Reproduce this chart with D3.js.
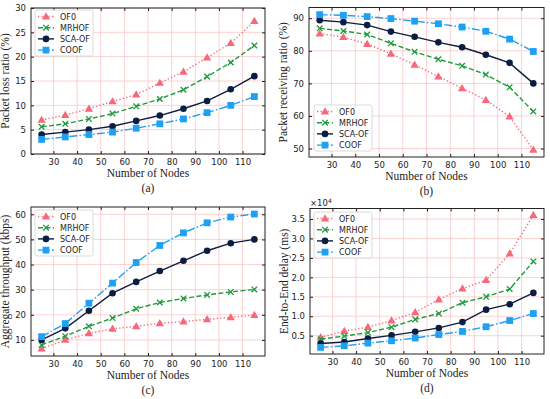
<!DOCTYPE html>
<html>
<head>
<meta charset="utf-8">
<script src="https://cdn.jsdelivr.net/npm/d3@7"></script>
<style>
  body { margin: 0; background: #fff; }
  svg { display: block; }
</style>
</head>
<body>
<svg id="fig" width="550" height="399"></svg>
<script>
// number of nodes (x values shared by all four panels)
var nodes = [25, 35, 45, 55, 65, 75, 85, 95, 105, 115];
var seriesNames = ['OF0', 'MRHOF', 'SCA-OF', 'COOF'];
var xTicks = [30, 40, 50, 60, 70, 80, 90, 100, 110];

// (a) packet loss ratio (%)
var lossOF0   = [7.0, 8.0, 9.3, 10.8, 12.2, 14.6, 16.9, 19.8, 22.8, 27.3];
var lossMRHOF = [5.6, 6.2, 7.2, 8.3, 9.8, 11.3, 13.2, 15.9, 18.8, 22.3];
var lossSCAOF = [4.0, 4.5, 5.0, 5.7, 6.8, 7.9, 9.3, 10.9, 13.3, 16.0];
var lossCOOF  = [3.0, 3.5, 4.0, 4.5, 5.3, 6.2, 7.2, 8.5, 10.0, 11.8];
var lossTicks = [0, 5, 10, 15, 20, 25, 30];

// (b) packet receiving ratio (%)
var recvOF0   = [85.3, 84.2, 82.1, 79.1, 75.7, 72.1, 68.5, 64.9, 59.8, 49.6];
var recvMRHOF = [86.9, 86.1, 85.0, 82.3, 79.7, 77.4, 75.4, 72.7, 68.8, 61.4];
var recvSCAOF = [89.4, 88.8, 87.9, 85.9, 84.3, 82.6, 81.1, 78.8, 76.3, 70.0];
var recvCOOF  = [91.1, 90.9, 90.5, 89.9, 89.1, 88.3, 87.3, 86.0, 83.6, 79.8];
var recvTicks = [50, 60, 70, 80, 90];

// (c) aggregate throughput (kbps)
var thrOF0   = [6.5, 10.0, 12.6, 14.4, 15.4, 16.6, 17.3, 18.2, 19.0, 19.9];
var thrMRHOF = [8.0, 11.5, 15.4, 18.7, 22.4, 24.9, 26.5, 27.9, 29.1, 30.1];
var thrSCAOF = [10.0, 14.6, 21.6, 28.6, 33.1, 37.4, 41.5, 45.5, 48.5, 50.0];
var thrCOOF  = [11.3, 16.5, 24.6, 32.6, 40.8, 47.6, 52.6, 56.6, 58.9, 60.1];
var thrTicks = [10, 20, 30, 40, 50, 60];

// (d) end-to-end delay (ms, in units of 10^4)
var delayOF0   = [0.46, 0.62, 0.72, 0.89, 1.10, 1.43, 1.71, 1.93, 2.61, 3.60];
var delayMRHOF = [0.41, 0.49, 0.58, 0.72, 0.92, 1.07, 1.35, 1.50, 1.70, 2.41];
var delaySCAOF = [0.30, 0.34, 0.43, 0.51, 0.60, 0.70, 0.85, 1.17, 1.31, 1.60];
var delayCOOF  = [0.20, 0.24, 0.31, 0.37, 0.44, 0.53, 0.61, 0.73, 0.89, 1.07];
var delayTicks = [0.5, 1.0, 1.5, 2.0, 2.5, 3.0, 3.5];

var styles = {
  'OF0':    { color: '#f7697a', dash: '1.3,2.2', marker: 'triangle' },
  'MRHOF':  { color: '#1f9a3c', dash: '5,2.4',   marker: 'x' },
  'SCA-OF': { color: '#0c1d42', dash: null,      marker: 'circle' },
  'COOF':   { color: '#1fa0f2', dash: '8,2.2,1.5,2.2', marker: 'square' }
};

var panels = [
  { tag: '(a)', series: [lossOF0, lossMRHOF, lossSCAOF, lossCOOF], yTicks: lossTicks,
    yDomain: [0, 30], ylabel: 'Packet loss ratio (%)', fmt: d3.format('d'),
    left: 31, right: 265, top: 8, bottom: 154, legend: [35, 10] },
  { tag: '(b)', series: [recvOF0, recvMRHOF, recvSCAOF, recvCOOF], yTicks: recvTicks,
    yDomain: [47.4, 93.3], ylabel: 'Packet receiving ratio (%)', fmt: d3.format('d'),
    left: 309, right: 544, top: 7.5, bottom: 157, legend: [314, 105] },
  { tag: '(c)', series: [thrOF0, thrMRHOF, thrSCAOF, thrCOOF], yTicks: thrTicks,
    yDomain: [3.6, 62.9], ylabel: 'Aggregate throughput (kbps)', fmt: d3.format('d'),
    left: 31, right: 265, top: 207, bottom: 356, legend: [35, 210] },
  { tag: '(d)', series: [delayOF0, delayMRHOF, delaySCAOF, delayCOOF], yTicks: delayTicks,
    yDomain: [0.03, 3.77], ylabel: 'End-to-End delay (ms)', fmt: d3.format('.1f'),
    left: 310, right: 544, top: 208.5, bottom: 354, legend: [314, 212], power: true }
];

var svg = d3.select('#fig');
var serif = '"Palatino Linotype", "Book Antiqua", Palatino, "Liberation Serif", serif';
var sans = '"DejaVu Sans", sans-serif';

function drawMarker(g, kind, cx, cy, color) {
  if (kind === 'triangle') {
    g.append('path').attr('d', d3.symbol(d3.symbolTriangle, 30)())
      .attr('transform', 'translate(' + cx + ',' + (cy + 0.5) + ')').attr('fill', color);
  } else if (kind === 'square') {
    g.append('rect').attr('x', cx - 3.4).attr('y', cy - 3.4)
      .attr('width', 6.8).attr('height', 6.8).attr('fill', color);
  } else if (kind === 'circle') {
    g.append('circle').attr('cx', cx).attr('cy', cy).attr('r', 3.3).attr('fill', color);
  } else {
    var s = 2.8;
    g.append('path')
      .attr('d', 'M' + (cx - s) + ',' + (cy - s) + 'L' + (cx + s) + ',' + (cy + s) +
                 'M' + (cx - s) + ',' + (cy + s) + 'L' + (cx + s) + ',' + (cy - s))
      .attr('stroke', color).attr('stroke-width', 1.3).attr('fill', 'none');
  }
}

panels.forEach(function(p) {
  var g = svg.append('g');
  var x = d3.scaleLinear().domain([20.5, 119.5]).range([p.left, p.right]);
  var y = d3.scaleLinear().domain(p.yDomain).range([p.bottom, p.top]);

  // grid
  g.selectAll('.gx').data(xTicks).enter().append('line')
    .attr('x1', function(d) { return x(d); }).attr('x2', function(d) { return x(d); })
    .attr('y1', p.top).attr('y2', p.bottom)
    .attr('stroke', '#fbc6c6').attr('stroke-width', 0.8);
  g.selectAll('.gy').data(p.yTicks).enter().append('line')
    .attr('y1', function(d) { return y(d); }).attr('y2', function(d) { return y(d); })
    .attr('x1', p.left).attr('x2', p.right)
    .attr('stroke', '#fbc6c6').attr('stroke-width', 0.8);

  // series
  var line = d3.line().x(function(d, i) { return x(nodes[i]); }).y(function(d) { return y(d); });
  p.series.forEach(function(vals, k) {
    var st = styles[seriesNames[k]];
    g.append('path').datum(vals).attr('d', line)
      .attr('fill', 'none').attr('stroke', st.color).attr('stroke-width', 1.4)
      .attr('stroke-dasharray', st.dash);
    vals.forEach(function(v, i) { drawMarker(g, st.marker, x(nodes[i]), y(v), st.color); });
  });

  // axes (ticks pointing inwards on all four sides)
  function styleAxis(a) {
    a.select('.domain').remove();
    a.selectAll('line').attr('stroke', '#222');
    a.selectAll('text').attr('font-family', sans).attr('font-size', 8.5).attr('fill', '#222');
  }
  g.append('g').attr('transform', 'translate(0,' + p.bottom + ')')
    .call(d3.axisBottom(x).tickValues(xTicks).tickSize(-3).tickPadding(5)).call(styleAxis);
  g.append('g').attr('transform', 'translate(0,' + p.top + ')')
    .call(d3.axisTop(x).tickValues(xTicks).tickSize(-3).tickFormat('')).call(styleAxis);
  g.append('g').attr('transform', 'translate(' + p.left + ',0)')
    .call(d3.axisLeft(y).tickValues(p.yTicks).tickSize(-3).tickPadding(5).tickFormat(p.fmt)).call(styleAxis);
  g.append('g').attr('transform', 'translate(' + p.right + ',0)')
    .call(d3.axisRight(y).tickValues(p.yTicks).tickSize(-3).tickFormat('')).call(styleAxis);

  g.append('rect').attr('x', p.left).attr('y', p.top)
    .attr('width', p.right - p.left).attr('height', p.bottom - p.top)
    .attr('fill', 'none').attr('stroke', '#222').attr('stroke-width', 1);

  if (p.power) {
    var t = g.append('text').attr('x', p.left).attr('y', p.top - 2.5)
      .attr('font-family', sans).attr('font-size', 8.5).attr('fill', '#222');
    t.append('tspan').text('\u00d710');
    t.append('tspan').attr('dy', -3).attr('font-size', 6).text('4');
  }

  // labels
  var cx = (p.left + p.right) / 2;
  g.append('text').attr('x', cx).attr('y', p.bottom + 23)
    .attr('text-anchor', 'middle').attr('font-family', serif).attr('font-size', 11.5)
    .attr('fill', '#222').text('Number of Nodes');
  g.append('text').attr('x', cx).attr('y', p.bottom + 38)
    .attr('text-anchor', 'middle').attr('font-family', serif).attr('font-size', 11.5)
    .attr('fill', '#222').text(p.tag);
  g.append('text')
    .attr('transform', 'translate(' + (p.left - 22) + ',' + ((p.top + p.bottom) / 2) + ') rotate(-90)')
    .attr('text-anchor', 'middle').attr('font-family', serif).attr('font-size', 11.5)
    .attr('fill', '#222').text(p.ylabel);

  // legend
  var lx = p.legend[0], ly = p.legend[1];
  var lg = g.append('g');
  lg.append('rect').attr('x', lx).attr('y', ly).attr('width', 58).attr('height', 46)
    .attr('rx', 2).attr('fill', '#fff').attr('fill-opacity', 0.9)
    .attr('stroke', '#d0d0d0').attr('stroke-width', 0.8);
  seriesNames.forEach(function(name, k) {
    var st = styles[name];
    var ry = ly + 6.5 + k * 11.2;
    lg.append('line').attr('x1', lx + 3).attr('x2', lx + 19).attr('y1', ry).attr('y2', ry)
      .attr('stroke', st.color).attr('stroke-width', 1.4).attr('stroke-dasharray', st.dash);
    drawMarker(lg, st.marker, lx + 11, ry, st.color);
    lg.append('text').attr('x', lx + 25).attr('y', ry + 3)
      .attr('font-family', sans).attr('font-size', 8).attr('fill', '#222').text(name);
  });
});
</script>
</body>
</html>
